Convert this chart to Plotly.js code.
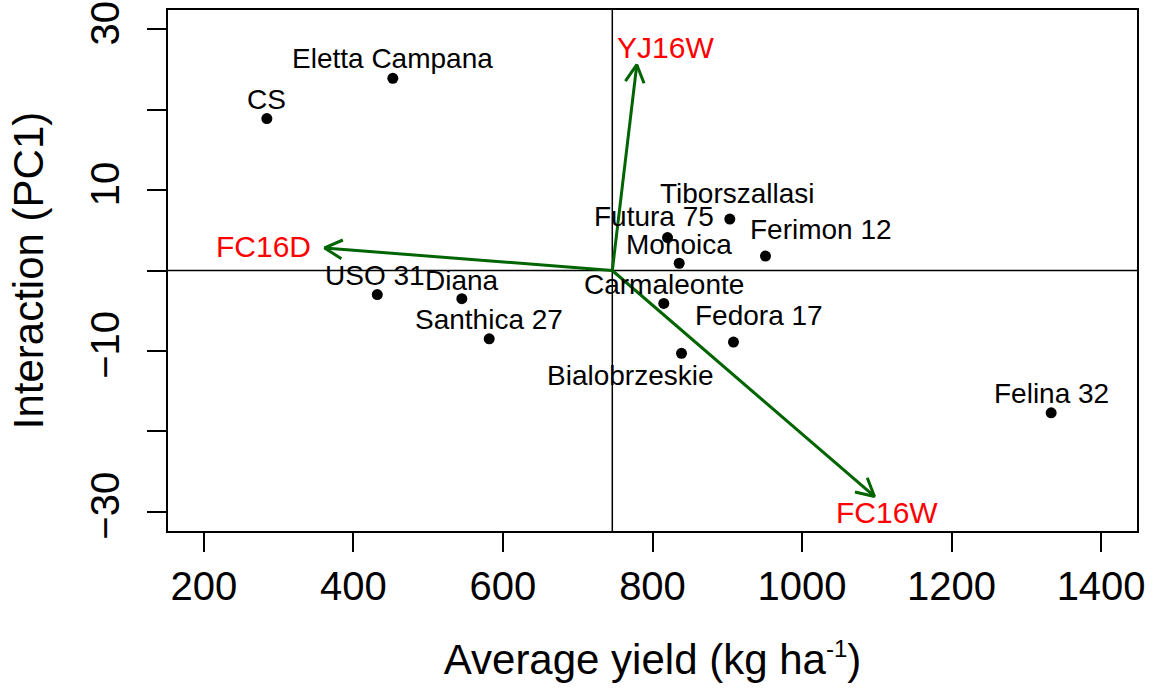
<!DOCTYPE html>
<html>
<head>
<meta charset="utf-8">
<script src="https://cdn.plot.ly/plotly-3.0.1.min.js"></script>
<style>
  html, body { margin: 0; padding: 0; background: #ffffff; }
  #chart { width: 1153px; height: 689px; }
</style>
</head>
<body>
<div id="chart"></div>
<script>
// Genotype scores: average yield vs. first interaction principal component
const genotypes = ['CS', 'Eletta Campana', 'USO 31', 'Diana', 'Santhica 27', 'Tiborszallasi',
  'Futura 75', 'Monoica', 'Ferimon 12', 'Carmaleonte', 'Fedora 17', 'Bialobrzeskie', 'Felina 32'];
const avgYield = [284.2, 452.7, 431.9, 545.0, 581.6, 903.4, 820.1, 835.7, 951.1, 815.1, 908.3, 838.8, 1333.2];
const interactionPC1 = [18.9, 23.9, -3.0, -3.5, -8.5, 6.4, 4.1, 0.9, 1.8, -4.1, -8.9, -10.3, -17.7];

// Environment vectors (arrow tips)
const environments = ['YJ16W', 'FC16D', 'FC16W'];
const envYield = [779.0, 361.4, 1096.9];
const envPC1 = [25.6, 2.8, -28.1];

// Axis ticks: labelled ticks plus unlabelled ticks in between on the y axis
const xTicks = [200, 400, 600, 800, 1000, 1200, 1400];
const yTicks = [-30, -10, 10, 30];
const yTickText = ['\u221230', '\u221210', '10', '30'];
const yStep = 10;

// Label placement (pixel offsets from each point: right, up)
const genoLabelShift = [[0, 19], [0, 19.5], [-2, 19], [0, 18.5], [0, 19], [8, 26],
  [-13.5, 21.5], [0, 19], [55.5, 27], [0, 19], [26, 27], [-51, -22], [0, 19.7]];
const envLabelShift = [[28.4, 16.7], [-61, 1.6], [12.5, -16.1]];

const FONT = 'Liberation Sans, Arial, Helvetica, sans-serif';
const GREEN = '#006400';

const W = 1153, H = 689;
const M = { l: 168, r: 16, t: 10, b: 158 };
const xRange = [152, 1448];
const yRange = [-32.4, 32.4];

// Grand mean of yield: origin of the environment vectors
const grandMean = avgYield.reduce((a, b) => a + b, 0) / avgYield.length;

// Pixel scale of the plotting region, used to shape the open arrowheads
const kx = (W - M.l - M.r) / (xRange[1] - xRange[0]);
const ky = (H - M.t - M.b) / (yRange[1] - yRange[0]);

const stemX = [], stemY = [], headX = [], headY = [];
const headLen = 20, headAng = 28 * Math.PI / 180;
environments.forEach((e, i) => {
  stemX.push(grandMean, envYield[i], null);
  stemY.push(0, envPC1[i], null);
  const dxp = (envYield[i] - grandMean) * kx;
  const dyp = (envPC1[i] - 0) * ky;
  const len = Math.hypot(dxp, dyp);
  const ux = -dxp / len, uy = -dyp / len;
  [headAng, -headAng].forEach((a, j) => {
    const rx = ux * Math.cos(a) - uy * Math.sin(a);
    const ry = ux * Math.sin(a) + uy * Math.cos(a);
    const px = envYield[i] + rx * headLen / kx;
    const py = envPC1[i] + ry * headLen / ky;
    if (j === 0) { headX.push(px, envYield[i]); headY.push(py, envPC1[i]); }
    else { headX.push(px, null); headY.push(py, null); }
  });
});

const traces = [
  {
    x: stemX, y: stemY, type: 'scatter', mode: 'lines',
    line: { color: GREEN, width: 3 }, hoverinfo: 'skip', showlegend: false
  },
  {
    x: headX, y: headY, type: 'scatter', mode: 'lines',
    line: { color: GREEN, width: 3 }, hoverinfo: 'skip', showlegend: false
  },
  {
    x: avgYield, y: interactionPC1, type: 'scatter', mode: 'markers',
    text: genotypes, marker: { color: '#000000', size: 11 }, showlegend: false
  }
];

const annotations = [];
genotypes.forEach((g, i) => {
  annotations.push({
    x: avgYield[i], y: interactionPC1[i], xref: 'x', yref: 'y', text: g,
    showarrow: false, xanchor: 'center', yanchor: 'middle',
    xshift: genoLabelShift[i][0], yshift: genoLabelShift[i][1],
    font: { family: FONT, size: 28, color: '#000000' }
  });
});
environments.forEach((e, i) => {
  annotations.push({
    x: envYield[i], y: envPC1[i], xref: 'x', yref: 'y', text: e,
    showarrow: false, xanchor: 'center', yanchor: 'middle',
    xshift: envLabelShift[i][0], yshift: envLabelShift[i][1],
    font: { family: FONT, size: 30, color: '#ff0000' }
  });
});

const layout = {
  width: W, height: H,
  margin: M,
  paper_bgcolor: '#ffffff', plot_bgcolor: '#ffffff',
  font: { family: FONT, color: '#000000' },
  showlegend: false,
  xaxis: {
    range: xRange, tickvals: xTicks, ticktext: xTicks.map(String),
    ticks: 'outside', ticklen: 19, tickwidth: 2, tickcolor: '#000000',
    showline: true, linewidth: 2, linecolor: '#000000', mirror: true,
    showgrid: false, zeroline: false,
    tickfont: { family: FONT, size: 40, color: '#000000' },
    title: {
      text: 'Average yield (kg ha<sup><span style="font-size:24px">-1</span></sup>)',
      font: { family: FONT, size: 42, color: '#000000' }, standoff: 38
    }
  },
  yaxis: {
    range: yRange, tickvals: yTicks, ticktext: yTickText, tickangle: -90,
    ticks: 'outside', ticklen: 19, tickwidth: 2, tickcolor: '#000000',
    ticklabelstandoff: 12,
    minor: { tick0: 0, dtick: yStep, ticks: 'outside', ticklen: 19, tickwidth: 2, tickcolor: '#000000', showgrid: false },
    showline: true, linewidth: 2, linecolor: '#000000', mirror: true,
    showgrid: false, zeroline: false,
    tickfont: { family: FONT, size: 40, color: '#000000' },
    title: { text: 'Interaction (PC1)', font: { family: FONT, size: 42, color: '#000000' }, standoff: 26 }
  },
  shapes: [
    { type: 'line', xref: 'paper', yref: 'y', x0: 0, x1: 1, y0: 0, y1: 0, layer: 'below',
      line: { color: '#000000', width: 1.5 } },
    { type: 'line', xref: 'x', yref: 'paper', x0: grandMean, x1: grandMean, y0: 0, y1: 1, layer: 'below',
      line: { color: '#000000', width: 1.5 } }
  ],
  annotations: annotations
};

Plotly.newPlot('chart', traces, layout, { displayModeBar: false, staticPlot: true });
</script>
</body>
</html>
